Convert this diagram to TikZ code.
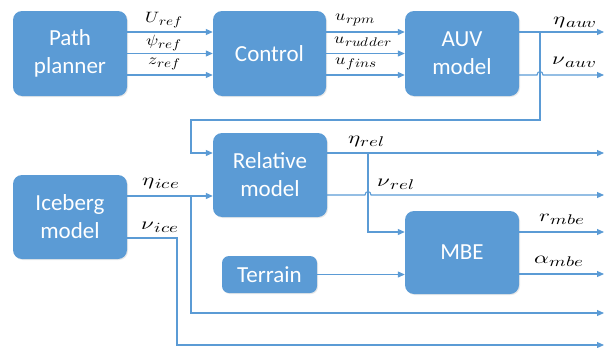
\documentclass[tikz,border=0pt]{standalone}
\usepackage{fontspec}
\usepackage{unicode-math}
\setmainfont{Carlito}
\setmathfont{Latin Modern Math}
\usetikzlibrary{arrows.meta,shadows}
\definecolor{boxblue}{HTML}{5B9BD5}
\newcommand\syml[2]{\scalebox{1.2}[1]{$#1$\kern0.3pt\raisebox{-2.5pt}{\fontsize{12.5}{12.5}\selectfont$#2$}}}
\newcommand\symr[2]{\scalebox{1.35}[1]{$#1$\kern0.3pt\raisebox{-3pt}{\fontsize{14}{14}\selectfont$#2$}}}
\begin{document}
\begin{tikzpicture}[x=1pt,y=-1pt,
  blk/.style={fill=boxblue, rounded corners=9pt, text=white, font=\fontsize{23}{28}\selectfont, align=center, inner sep=0pt, minimum width=114pt, drop shadow={opacity=0.18,shadow xshift=1pt,shadow yshift=-1pt}},
  wire/.style={draw=boxblue, line width=1.1pt},
  arr/.style={wire, -{Triangle[length=7pt,width=6pt]}},
  lbl/.style={font=\fontsize{15}{15}\selectfont, inner sep=0pt},
  lbr/.style={font=\fontsize{17}{17}\selectfont, inner sep=0pt}]
\useasboundingbox (0,0) rectangle (605,348);

% blocks
\node[blk, minimum height=85pt] (pp) at (70,53.5) {Path\\planner};
\node[blk, minimum width=113pt, minimum height=85pt] (ctrl) at (269.5,53.5) {Control};
\node[blk, minimum height=85pt] (auv) at (462,53.5) {AUV\\model};
\node[blk, minimum height=84pt] (rel) at (270,175) {Relative\\model};
\node[blk, minimum height=84pt] (ice) at (70,217) {Iceberg\\model};
\node[blk, minimum height=83pt] (mbe) at (462,252.5) {MBE};
\node[blk, minimum width=95pt, minimum height=37pt, rounded corners=7pt] (terr) at (269.5,274.5) {Terrain};

% free ends
\coordinate (o1) at (604,32);
\coordinate (o2) at (604,75);
\coordinate (o3) at (604,153);
\coordinate (o4) at (604,195);
\coordinate (o5) at (604,232);
\coordinate (o6) at (604,274);
\coordinate (o7) at (604,313);
\coordinate (o8) at (604,345);
\coordinate (j1) at (540,32);
\coordinate (j2) at (368,153);
\coordinate (j3) at (191,196);

% path planner -> control -> auv
\foreach \s in {21.5,0,-21.5}{
  \draw[arr] ([yshift=\s pt]pp.east) -- ([yshift=\s pt]ctrl.west);
  \draw[arr] ([yshift=\s pt]ctrl.east) -- ([yshift=\s pt]auv.west);
}

% auv outputs
\draw[arr] ([yshift=21.5pt]auv.east) -- (o1);
\draw[arr] ([yshift=-21.5pt]auv.east) -- (537,75) .. controls (537,70.5) and (543,70.5) .. (543,75) -- (o2);
\draw[arr] (j1) |- (191,120) |- ([yshift=22pt]rel.west);

% relative model outputs
\draw[arr] ([yshift=22pt]rel.east) -- (o3);
\draw[arr] (j2) |- ([yshift=20.5pt]mbe.west);
\draw[arr] ([yshift=-20pt]rel.east) -- (365,195) .. controls (365,190.5) and (371,190.5) .. (371,195) -- (o4);

% iceberg outputs
\draw[arr] ([yshift=21pt]ice.east) -- ([yshift=-21pt]rel.west);
\draw[arr] (j3) |- (o7);
\draw[arr] ([yshift=-21pt]ice.east) -| (177,345) -- (o8);

% terrain and mbe
\draw[arr] (terr.east) -- (terr.east -| mbe.west);
\draw[arr] ([yshift=20.5pt]mbe.east) -- (o5);
\draw[arr] ([yshift=-21.5pt]mbe.east) -- (o6);

% labels
\node[lbl] (lU) at (164,20) {\syml{U}{ref}};
\node[lbl] (lpsi) at (164,43) {\syml{\psi}{ref}};
\node[lbl] (lz) at (164,64) {\syml{z}{ref}};
\node[lbl] (lurpm) at (355,20) {\syml{u}{rpm}};
\node[lbl] (lurud) at (363,42) {\syml{u}{rudder}};
\node[lbl] (lufins) at (356,64) {\syml{u}{fins}};
\node[lbr] (leauv) at (575,23) {\symr{\eta}{auv}};
\node[lbr] (lnauv) at (574,62) {\symr{\nu}{auv}};
\node[lbr] (lerel) at (366,142) {\symr{\eta}{rel}};
\node[lbr] (lnrel) at (396,184) {\symr{\nu}{rel}};
\node[lbr] (lrmbe) at (562,219) {\symr{r}{mbe}};
\node[lbr] (lambe) at (559,261) {\symr{\alpha}{mbe}};
\node[lbr] (leice) at (161,184) {\symr{\eta}{ice}};
\node[lbr] (lnice) at (160,227) {\symr{\nu}{ice}};
\end{tikzpicture}
\end{document}
